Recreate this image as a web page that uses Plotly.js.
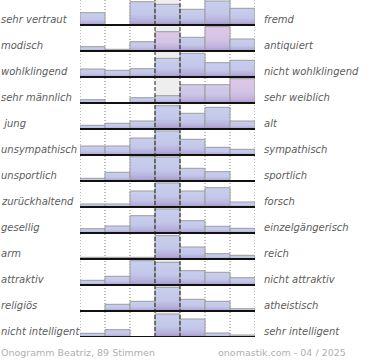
<!DOCTYPE html>
<html>
<head>
<meta charset="utf-8">
<script src="https://cdn.plot.ly/plotly-3.0.1.min.js"></script>
<style>body{margin:0;background:#fff}#chart{width:370px;height:360px}</style>
</head>
<body>
<div id="chart"></div>
<script>
// ---- data ----
const scalePoints = [1, 2, 3, 4, 5, 6, 7];
const leftLabels = ["sehr vertraut", "modisch", "wohlklingend", "sehr männlich", "\u00a0jung",
  "unsympathisch", "unsportlich", "zurückhaltend", "gesellig", "arm", "attraktiv", "religiös",
  "nicht intelligent"];
const rightLabels = ["fremd", "antiquiert", "nicht wohlklingend", "sehr weiblich", "alt",
  "sympathisch", "sportlich", "forsch", "einzelgängerisch", "reich", "nicht attraktiv",
  "atheistisch", "sehr intelligent"];
const vertraut     = [12.3, 0, 23.3, 20.7, 15.7, 24, 16.7];
const modisch      = [4.3, 1.7, 9.3, 19.3, 13.7, 24.3, 12];
const wohlklingend = [8, 6.7, 8.3, 18.7, 23.7, 14.3, 16.7];
const maennlich    = [3.3, 0, 5.3, 7.3, 18.3, 18.3, 24.3];
const jung         = [3.7, 5.7, 8, 23.3, 15.7, 21.7, 8];
const unsympath    = [9, 9, 17, 24, 15.7, 7.7, 5.7];
const unsportlich  = [2.7, 8.7, 24.3, 24, 12.7, 9.3, 0];
const zurueckhalt  = [3, 3, 16, 24, 16, 19.3, 5];
const gesellig     = [4.3, 7, 17.3, 24, 12.3, 6.7, 4.7];
const arm          = [1.7, 1.7, 1.7, 23.3, 12, 5.3, 3.7];
const attraktiv    = [4.7, 8.7, 24.3, 22.7, 14.3, 12.7, 7.3];
const religioes    = [0, 6.7, 9.7, 23.7, 11.7, 9.7, 2.3];
const nichtIntell  = [3.7, 7.3, 0, 23, 18, 4, 2];
const rows = [vertraut, modisch, wohlklingend, maennlich, jung, unsympath, unsportlich,
  zurueckhalt, gesellig, arm, attraktiv, religioes, nichtIntell];
const footerLeft = "Onogramm Beatriz, 89 Stimmen";
const footerRight = "onomastik.com - 04 / 2025";

// ---- styling ----
const tints = { "1-3": "pink", "1-5": "pink", "3-4": "lav", "3-5": "lav", "3-6": "pink" };
const tintColor = { blue: "#c5cbea", pink: "#dcc6e6", lav: "#d2c8e8" };
const ROW = 26, TOP = 25, N = rows.length;
const baseOf = i => (N - 1 - i) * ROW;
const yMax = baseOf(0) + TOP;
const plotW = 175;
const px = p => (p - 80) / plotW;

const traces = rows.map((vals, i) => ({
  type: "bar", x: scalePoints, y: vals, base: baseOf(i), width: 1,
  marker: { color: vals.map((v, j) => tintColor[tints[i + "-" + j] || "blue"]),
            line: { color: "#9c9c9c", width: 1 } },
  hoverinfo: "skip", showlegend: false
}));

const shapes = [];
rows.forEach((v, i) => {
  shapes.push({ type: "rect", layer: "below", xref: "x", yref: "y", x0: 3.5, x1: 4.5,
    y0: baseOf(i), y1: baseOf(i) + TOP, fillcolor: "#eeeeee", line: { width: 0 } });
});
[0.5, 1.5, 2.5, 5.5, 6.5, 7.5].forEach(x => shapes.push({ type: "line", layer: "below",
  xref: "x", yref: "y", x0: x, x1: x, y0: 0, y1: yMax,
  line: { color: "#808080", width: 1, dash: "1px,2px" } }));
rows.forEach((v, i) => shapes.push({ type: "line", layer: "above", xref: "x", yref: "y",
  x0: 0.5, x1: 7.55, y0: baseOf(i), y1: baseOf(i), line: { color: "#111", width: 2 } }));
[3.5, 4.5].forEach(x => shapes.push({ type: "line", layer: "above", xref: "x", yref: "y",
  x0: x, x1: x, y0: 0, y1: yMax, line: { color: "#222", width: 1, dash: "4px,2px" } }));

const labFont = { family: "DejaVu Sans", size: 10, color: "#5c5c5c" };
const annotations = [];
rows.forEach((v, i) => {
  annotations.push({ xref: "paper", yref: "y", x: px(0), y: baseOf(i) + 6, xanchor: "left",
    yanchor: "middle", xshift: -1, text: "<i>" + leftLabels[i] + "</i>", showarrow: false, font: labFont });
  annotations.push({ xref: "paper", yref: "y", x: px(263), y: baseOf(i) + 6, xanchor: "left",
    yanchor: "middle", xshift: -1, text: "<i>" + rightLabels[i] + "</i>", showarrow: false, font: labFont });
});
const footFont = { family: "DejaVu Sans", size: 9.5, color: "#b0b0b0" };
annotations.push({ xref: "paper", yref: "paper", x: px(0), y: -15 / yMax, xanchor: "left",
  yanchor: "middle", xshift: -1, text: footerLeft, showarrow: false, font: footFont });
annotations.push({ xref: "paper", yref: "paper", x: px(348), y: -15 / yMax, xanchor: "right",
  yanchor: "middle", text: footerRight, showarrow: false, font: footFont });

const layout = {
  width: 370, height: 360, margin: { l: 80, r: 115, t: 0, b: 23 },
  paper_bgcolor: "#fff", plot_bgcolor: "#fff", barmode: "overlay",
  xaxis: { range: [0.5, 7.5], visible: false, fixedrange: true },
  yaxis: { range: [0, yMax], visible: false, fixedrange: true },
  shapes, annotations, showlegend: false
};

Plotly.newPlot("chart", traces, layout, { staticPlot: true, displayModeBar: false }).then(gd => {
  const NS = "http://www.w3.org/2000/svg";
  const svg = gd.querySelector(".main-svg");
  let defs = svg.querySelector("defs");
  if (!defs) { defs = document.createElementNS(NS, "defs"); svg.insertBefore(defs, svg.firstChild); }
  const stopsFor = {
    blue: [[0, "#c8cfec"], [0.55, "#c3c7e9"], [0.85, "#b4aeda"], [1, "#a393c7"]],
    pink: [[0, "#ddc7e7"], [0.55, "#d5c3e5"], [0.85, "#bfb0dc"], [1, "#a594c8"]],
    lav:  [[0, "#d4cbe9"], [0.55, "#cbc5e7"], [0.85, "#b8aedb"], [1, "#a493c7"]]
  };
  Object.keys(stopsFor).forEach(k => {
    const g = document.createElementNS(NS, "linearGradient");
    g.setAttribute("id", "bargrad-" + k);
    g.setAttribute("x1", "0"); g.setAttribute("y1", "0");
    g.setAttribute("x2", "0"); g.setAttribute("y2", "1");
    stopsFor[k].forEach(([o, c]) => {
      const s = document.createElementNS(NS, "stop");
      s.setAttribute("offset", o); s.setAttribute("stop-color", c);
      g.appendChild(s);
    });
    defs.appendChild(g);
  });
  gd.querySelectorAll(".barlayer .trace").forEach((tr, i) => {
    tr.querySelectorAll(".point").forEach((pt, j) => {
      const p = pt.querySelector("path");
      if (p) p.style.fill = "url(#bargrad-" + (tints[i + "-" + j] || "blue") + ")";
    });
  });
});
</script>
</body>
</html>
